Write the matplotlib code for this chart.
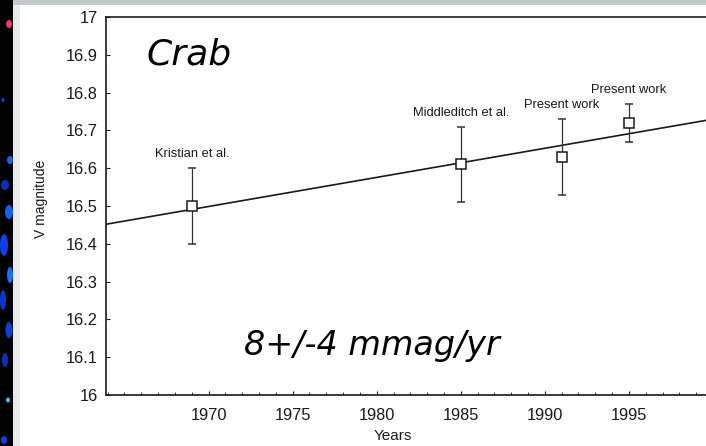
import matplotlib
matplotlib.use("Agg")
import matplotlib.pyplot as plt
from matplotlib.patches import Rectangle, Ellipse
from matplotlib.ticker import MultipleLocator, FuncFormatter
import numpy as np

# data
years = [1969, 1985, 1991, 1995]
vmag = [16.50, 16.61, 16.63, 16.72]
vmag_err = [0.10, 0.10, 0.10, 0.05]
sources = ["Kristian et al.", "Middleditch et al.", "Present work", "Present work"]

# linear fit (about 8 mmag/yr)
fit_slope = 0.0077
fit_ref_year = 1969
fit_ref_mag = 16.491

xlim = (1963.9, 2000.0)
ylim = (16.0, 17.0)

ink = "#1a1a1a"
plt.rcParams["font.family"] = ["Liberation Sans", "DejaVu Sans"]

fig = plt.figure(figsize=(7.06, 4.46), dpi=100)
fig.patch.set_facecolor("white")

# slide decoration: black image strip on the left, grey frame bits
fig.patches.append(Rectangle((0, 0), 13 / 706, 1, transform=fig.transFigure,
                             facecolor="black", edgecolor="none", zorder=0))
fig.patches.append(Rectangle((13 / 706, 0), 7 / 706, 1, transform=fig.transFigure,
                             facecolor="#e6eaec", edgecolor="none", zorder=0))
fig.patches.append(Rectangle((13 / 706, 1 - 5 / 446), 1, 5 / 446, transform=fig.transFigure,
                             facecolor="#c3c8ca", edgecolor="none", zorder=0))
blobs = [(9, 24, 6, 8, "#ff3070"), (3, 100, 3, 4, "#0a3cff"), (10, 160, 6, 8, "#1a60ff"),
         (5, 185, 8, 10, "#0a30c0"), (9, 212, 8, 14, "#1060ff"), (4, 245, 8, 22, "#0a40f0"),
         (10, 275, 6, 16, "#1a70ff"), (3, 300, 6, 20, "#0a36d0"), (9, 330, 7, 16, "#0a40e0"),
         (5, 360, 6, 14, "#0a30c0"), (8, 400, 4, 5, "#40c0ff"), (4, 440, 6, 8, "#0a40f0")]
for bx, by, bw, bh, bc in blobs:
    fig.patches.append(Ellipse((bx / 706, 1 - by / 446), bw / 706, bh / 446,
                               transform=fig.transFigure, facecolor=bc,
                               edgecolor="none", zorder=1))

# axes box runs off the right edge like the scanned figure
left = 106 / 706
bottom = 1 - 395 / 446
width = (713 - 106) / 706
height = 378 / 446
ax = fig.add_axes([left, bottom, width, height])
ax.set_xlim(*xlim)
ax.set_ylim(*ylim)

fx = np.array(xlim)
ax.plot(fx, fit_ref_mag + fit_slope * (fx - fit_ref_year), color=ink, lw=1.2)

ax.errorbar(years, vmag, yerr=vmag_err, fmt="s", mfc="white", mec=ink, mew=1.1,
            ms=6.5, ecolor="#333333", elinewidth=0.9, capsize=3, capthick=1.0, zorder=3)

for yr, m, e, s in zip(years, vmag, vmag_err, sources):
    ax.annotate(s, (yr, m + e), xytext=(0, 10), textcoords="offset points",
                ha="center", va="center", fontsize=9.3, color=ink)

ax.xaxis.set_major_locator(MultipleLocator(5))
ax.xaxis.set_minor_locator(MultipleLocator(1))
ax.yaxis.set_major_locator(MultipleLocator(0.1))
ax.yaxis.set_major_formatter(FuncFormatter(lambda v, p: f"{v:.1f}".rstrip("0").rstrip(".")))
ax.set_xticks([1970, 1975, 1980, 1985, 1990, 1995])
ax.tick_params(axis="both", which="both", direction="in", colors=ink, labelsize=11.8)
ax.tick_params(axis="y", length=3, pad=6)
ax.tick_params(axis="x", which="major", length=3, pad=9)
ax.tick_params(axis="x", which="minor", length=2)
for sp in ax.spines.values():
    sp.set_color(ink)
    sp.set_linewidth(1.2)

ax.set_xlabel("Years", fontsize=11, color=ink)
ax.xaxis.set_label_coords((393 - 106) / (713 - 106), -0.09)
ax.set_ylabel("V magnitude", fontsize=10, color=ink)
ax.yaxis.set_label_coords(-(106 - 48) / (713 - 106), 0.52)

ax.text(1966.3, 16.9, "Crab", fontsize=26, style="italic", color="black",
        family=["DejaVu Sans"], ha="left", va="center")
ax.text(1972.1, 16.13, "8+/-4 mmag/yr", fontsize=24, style="italic", color="black",
        family=["DejaVu Sans"], ha="left", va="center")

fig.savefig("out.png", dpi=100)
